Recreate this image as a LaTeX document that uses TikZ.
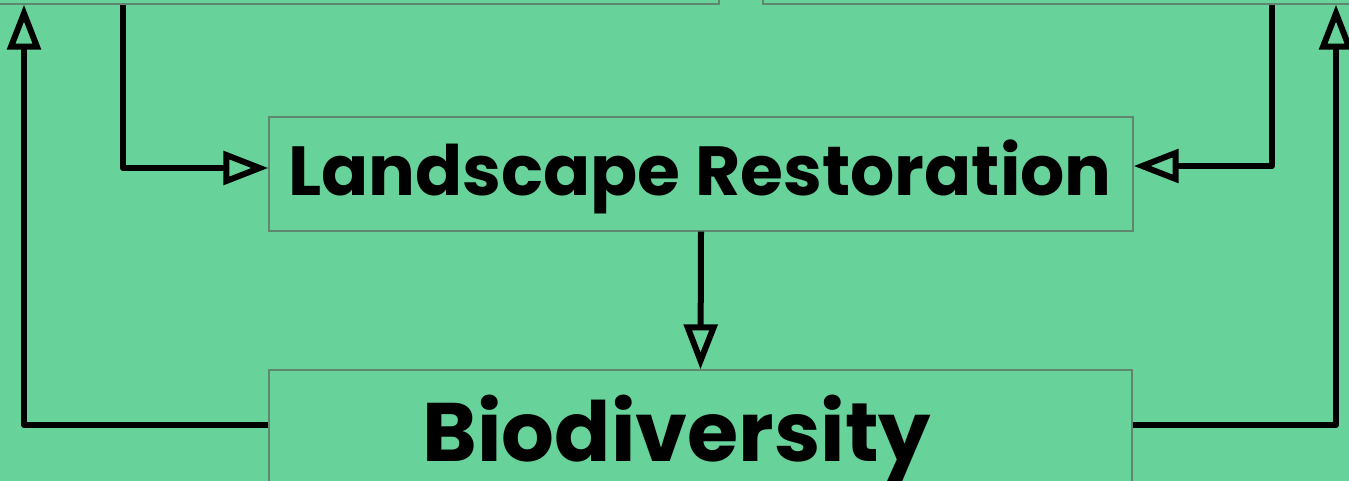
\documentclass[tikz,border=0pt]{standalone}
\usepackage{fontspec}
\setmainfont{Poppins}
\usetikzlibrary{arrows.meta}
\definecolor{bg}{RGB}{104,210,155}
\definecolor{edge}{RGB}{95,135,112}
\begin{document}
\begin{tikzpicture}[x=1pt,y=-1pt,
  box/.style={draw=edge, line width=1.3pt, rectangle, inner sep=0pt},
  arr/.style={line width=6pt, line join=round, -{Triangle[open,length=45pt,width=33pt]}},
  lbl/.style={anchor=base, inner sep=0pt, text=black}]
\useasboundingbox (0,0) rectangle (1349,481);
\fill[bg] (0,0) rectangle (1349,481);
\clip (0,0) rectangle (1349,481);
% boxes
\node[box, minimum width=800pt, minimum height=120pt] (topL) at (319,-56) {};
\node[box, minimum width=700pt, minimum height=120pt] (topR) at (1113,-56) {};
\node[box, minimum width=864pt, minimum height=114pt] (LR) at (701,174) {};
\node[box, minimum width=863pt, minimum height=170pt] (Bio) at (700.5,455) {};
% texts
\node[lbl, font=\fontsize{69.5}{72}\selectfont\bfseries] (LRt) at (700,196) {Landscape Restoration};
\node[lbl, font=\fontsize{83}{86}\selectfont\bfseries] (Biot) at (677,461) {Biodiversity};
% helper coordinates
\coordinate (cL) at (123,0);
\coordinate (cR) at (1272,0);
\coordinate (cLL) at (24,0);
\coordinate (cRR) at (1336,0);
\coordinate (rL) at (0,168);
\coordinate (rR) at (0,166);
\coordinate (rB) at (0,425);
% connectors
\draw[arr] (topL.south -| cL) |- (LR.west |- rL);
\draw[arr] (topR.south -| cR) |- (LR.east |- rR);
\draw[arr] (LR.south) -- (Bio.north);
\draw[arr] (Bio.west |- rB) -| (topL.south -| cLL);
\draw[arr] (Bio.east |- rB) -| (topR.south -| cRR);
\end{tikzpicture}
\end{document}
